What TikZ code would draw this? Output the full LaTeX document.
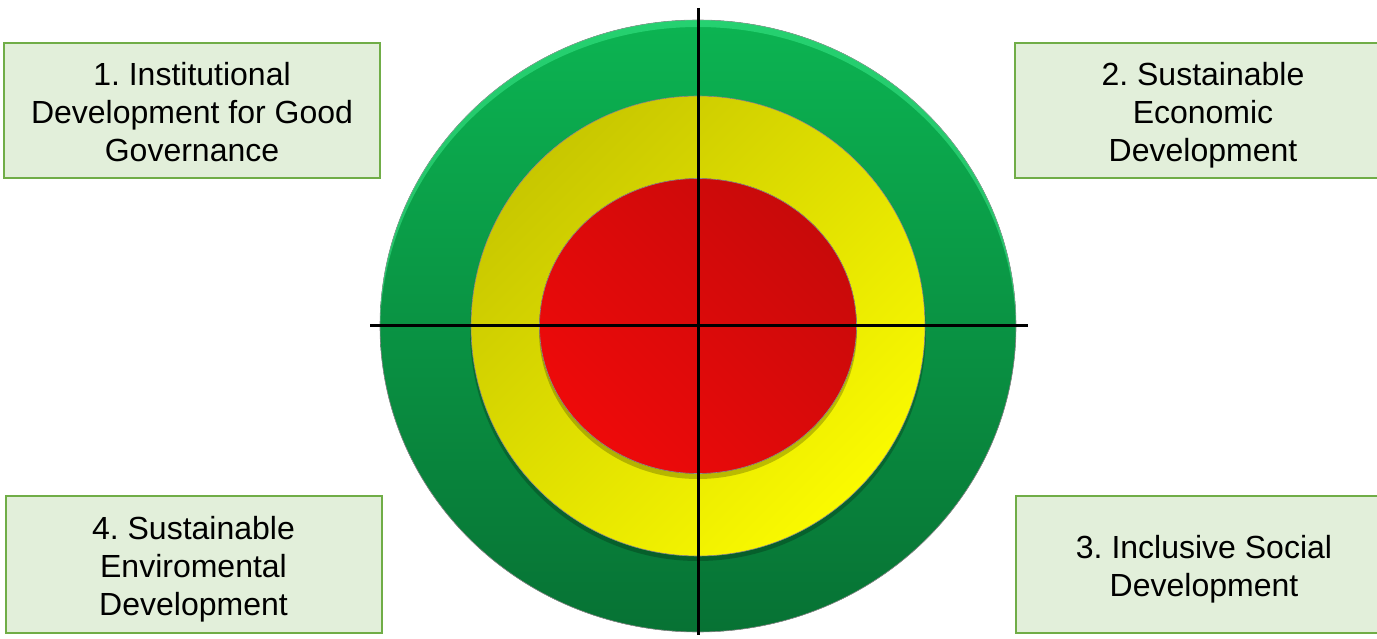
\documentclass[tikz,border=0pt]{standalone}
\usepackage{fontspec}
\setmainfont{Liberation Sans}
\frenchspacing

\definecolor{boxfill}{HTML}{E2EFDA}
\definecolor{boxline}{HTML}{70AD47}
\definecolor{greenTop}{HTML}{0CB452}
\definecolor{greenBot}{HTML}{077234}
\definecolor{greenHi}{HTML}{45F595}
\definecolor{yellowDark}{HTML}{C8C700}
\definecolor{yellowLight}{HTML}{FAFA00}
\definecolor{redDark}{HTML}{C80A0A}
\definecolor{redLight}{HTML}{EE0A0A}

% goal text, set a little low in its box
\newcommand{\goaltext}[1]{\raisebox{-5pt}[\height][\depth]{\begin{tabular}{@{}c@{}}#1\end{tabular}}}

\begin{document}
\begin{tikzpicture}[x=1pt, y=1pt,
  goal/.style={draw=boxline, line width=2pt, fill=boxfill,
    minimum width=376pt, minimum height=135pt, inner sep=0pt,
    font=\fontsize{32}{38}\selectfont},
  ring/.style={draw=black!45, line width=0.6pt},
  shade/.style={fill=black, opacity=0.22},
  axis/.style={line width=3pt, black}]

  % 0. page frame
  \clip (0,0) rectangle (1377,638);

  % 1. target rings
  \coordinate (O) at (698,312);
  \fill[ring, top color=greenTop, bottom color=greenBot]
    (O) ellipse [x radius=318, y radius=306];
  \begin{scope}
    \clip (O) ellipse [x radius=318, y radius=306];
    \draw[greenHi, line width=8, opacity=0.45]
      ([yshift=-7]O) ellipse [x radius=322, y radius=310];
  \end{scope}
  \fill[shade] ([yshift=-5]O) ellipse [x radius=228, y radius=230];
  \filldraw[ring, top color=yellowDark, bottom color=yellowLight, shading angle=45]
    (O) ellipse [x radius=227, y radius=230];
  \fill[shade] ([yshift=-5]O) ellipse [x radius=159, y radius=148];
  \filldraw[ring, top color=redDark, bottom color=redLight, shading angle=-45]
    (O) ellipse [x radius=158.5, y radius=147.5];

  % 2. cross hairs
  \coordinate (top) at (698,630);
  \coordinate (bottom) at (698,3);
  \coordinate (left) at (370,312);
  \coordinate (right) at (1028,312);
  \draw[axis] (top) -- (bottom);
  \draw[axis] (left) -- (right);

  % 3. development goals
  \node[goal] (gov) at (192,527.5) {\goaltext{1. Institutional\\Development for Good\\Governance}};
  \node[goal] (econ) at (1203,527.5) {\goaltext{2. Sustainable\\Economic\\Development}};
  \node[goal, minimum height=137pt] (social) at (1204,73.5) {\goaltext{3. Inclusive Social\\Development}};
  \node[goal, minimum height=137pt] (env) at (193.5,73.5) {\goaltext{4. Sustainable\\Enviromental\\Development}};

\end{tikzpicture}
\end{document}
